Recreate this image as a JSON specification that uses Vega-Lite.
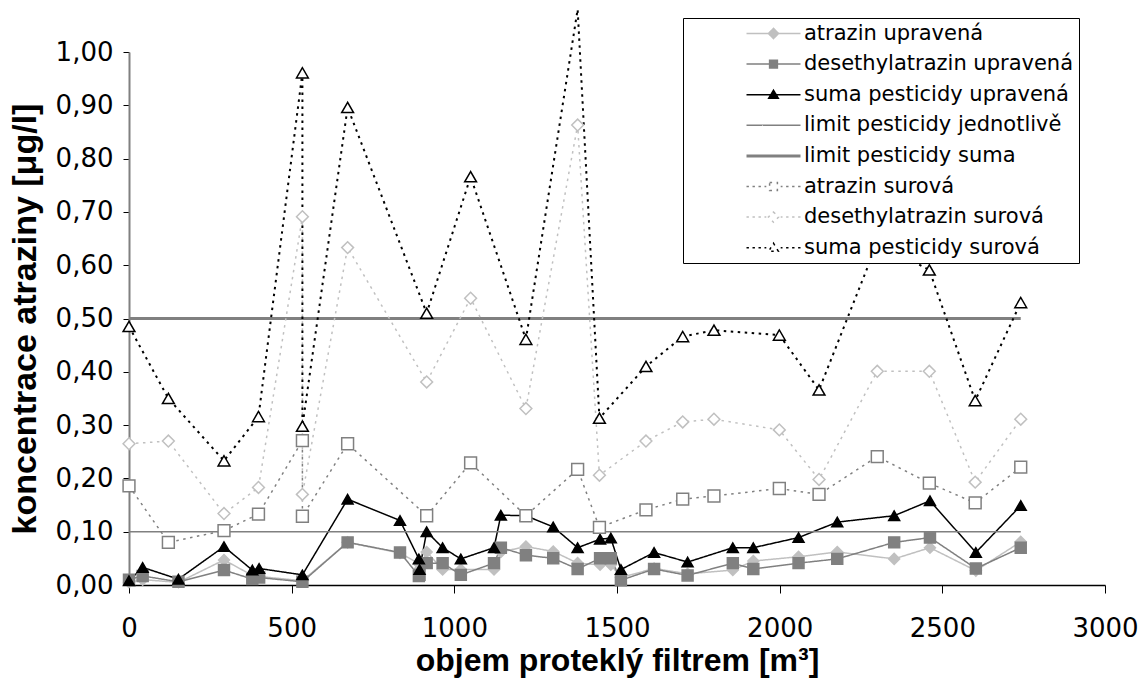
{
  "$schema": "https://vega.github.io/schema/vega-lite/v6.json",
  "width": 976,
  "height": 533,
  "autosize": {"type": "none"},
  "padding": {"left": 129, "top": 52, "right": 42, "bottom": 96},
  "background": "white",
  "config": {"view": {"stroke": null}, "axis": {"grid": false}},
  "data": {"values": [
    {"s":"atrazin upravená","i":0,"x":0,"y":0.005},{"s":"atrazin upravená","i":1,"x":42,"y":0.010},{"s":"atrazin upravená","i":2,"x":152,"y":0.005},{"s":"atrazin upravená","i":3,"x":292,"y":0.047},{"s":"atrazin upravená","i":4,"x":379,"y":0.018},{"s":"atrazin upravená","i":5,"x":400,"y":0.016},{"s":"atrazin upravená","i":6,"x":533,"y":0.008},{"s":"atrazin upravená","i":7,"x":672,"y":0.080},{"s":"atrazin upravená","i":8,"x":833,"y":0.060},{"s":"atrazin upravená","i":9,"x":891,"y":0.040},{"s":"atrazin upravená","i":10,"x":893,"y":0.030},{"s":"atrazin upravená","i":11,"x":915,"y":0.062},{"s":"atrazin upravená","i":12,"x":964,"y":0.029},{"s":"atrazin upravená","i":13,"x":1020,"y":0.029},{"s":"atrazin upravená","i":14,"x":1122,"y":0.029},{"s":"atrazin upravená","i":15,"x":1143,"y":0.062},{"s":"atrazin upravená","i":16,"x":1220,"y":0.072},{"s":"atrazin upravená","i":17,"x":1304,"y":0.063},{"s":"atrazin upravená","i":18,"x":1379,"y":0.041},{"s":"atrazin upravená","i":19,"x":1448,"y":0.038},{"s":"atrazin upravená","i":20,"x":1481,"y":0.038},{"s":"atrazin upravená","i":21,"x":1512,"y":0.014},{"s":"atrazin upravená","i":22,"x":1614,"y":0.031},{"s":"atrazin upravená","i":23,"x":1717,"y":0.021},{"s":"atrazin upravená","i":24,"x":1856,"y":0.028},{"s":"atrazin upravená","i":25,"x":1919,"y":0.045},{"s":"atrazin upravená","i":26,"x":2058,"y":0.053},{"s":"atrazin upravená","i":27,"x":2177,"y":0.062},{"s":"atrazin upravená","i":28,"x":2352,"y":0.049},{"s":"atrazin upravená","i":29,"x":2462,"y":0.070},{"s":"atrazin upravená","i":30,"x":2603,"y":0.027},{"s":"atrazin upravená","i":31,"x":2741,"y":0.081},
    {"s":"desethylatrazin upravená","i":0,"x":0,"y":0.010},{"s":"desethylatrazin upravená","i":1,"x":42,"y":0.017},{"s":"desethylatrazin upravená","i":2,"x":152,"y":0.006},{"s":"desethylatrazin upravená","i":3,"x":292,"y":0.028},{"s":"desethylatrazin upravená","i":4,"x":379,"y":0.011},{"s":"desethylatrazin upravená","i":5,"x":400,"y":0.014},{"s":"desethylatrazin upravená","i":6,"x":533,"y":0.006},{"s":"desethylatrazin upravená","i":7,"x":672,"y":0.080},{"s":"desethylatrazin upravená","i":8,"x":833,"y":0.061},{"s":"desethylatrazin upravená","i":9,"x":891,"y":0.017},{"s":"desethylatrazin upravená","i":10,"x":893,"y":0.019},{"s":"desethylatrazin upravená","i":11,"x":915,"y":0.041},{"s":"desethylatrazin upravená","i":12,"x":964,"y":0.041},{"s":"desethylatrazin upravená","i":13,"x":1020,"y":0.019},{"s":"desethylatrazin upravená","i":14,"x":1122,"y":0.041},{"s":"desethylatrazin upravená","i":15,"x":1143,"y":0.070},{"s":"desethylatrazin upravená","i":16,"x":1220,"y":0.056},{"s":"desethylatrazin upravená","i":17,"x":1304,"y":0.050},{"s":"desethylatrazin upravená","i":18,"x":1379,"y":0.030},{"s":"desethylatrazin upravená","i":19,"x":1448,"y":0.050},{"s":"desethylatrazin upravená","i":20,"x":1481,"y":0.050},{"s":"desethylatrazin upravená","i":21,"x":1512,"y":0.009},{"s":"desethylatrazin upravená","i":22,"x":1614,"y":0.030},{"s":"desethylatrazin upravená","i":23,"x":1717,"y":0.018},{"s":"desethylatrazin upravená","i":24,"x":1856,"y":0.041},{"s":"desethylatrazin upravená","i":25,"x":1919,"y":0.030},{"s":"desethylatrazin upravená","i":26,"x":2058,"y":0.041},{"s":"desethylatrazin upravená","i":27,"x":2177,"y":0.049},{"s":"desethylatrazin upravená","i":28,"x":2352,"y":0.080},{"s":"desethylatrazin upravená","i":29,"x":2462,"y":0.089},{"s":"desethylatrazin upravená","i":30,"x":2603,"y":0.031},{"s":"desethylatrazin upravená","i":31,"x":2741,"y":0.070},
    {"s":"suma pesticidy upravená","i":0,"x":0,"y":0.008},{"s":"suma pesticidy upravená","i":1,"x":42,"y":0.033},{"s":"suma pesticidy upravená","i":2,"x":152,"y":0.011},{"s":"suma pesticidy upravená","i":3,"x":292,"y":0.072},{"s":"suma pesticidy upravená","i":4,"x":379,"y":0.028},{"s":"suma pesticidy upravená","i":5,"x":400,"y":0.031},{"s":"suma pesticidy upravená","i":6,"x":533,"y":0.019},{"s":"suma pesticidy upravená","i":7,"x":672,"y":0.161},{"s":"suma pesticidy upravená","i":8,"x":833,"y":0.121},{"s":"suma pesticidy upravená","i":9,"x":891,"y":0.049},{"s":"suma pesticidy upravená","i":10,"x":893,"y":0.029},{"s":"suma pesticidy upravená","i":11,"x":915,"y":0.100},{"s":"suma pesticidy upravená","i":12,"x":964,"y":0.070},{"s":"suma pesticidy upravená","i":13,"x":1020,"y":0.049},{"s":"suma pesticidy upravená","i":14,"x":1122,"y":0.070},{"s":"suma pesticidy upravená","i":15,"x":1143,"y":0.131},{"s":"suma pesticidy upravená","i":16,"x":1220,"y":0.130},{"s":"suma pesticidy upravená","i":17,"x":1304,"y":0.109},{"s":"suma pesticidy upravená","i":18,"x":1379,"y":0.070},{"s":"suma pesticidy upravená","i":19,"x":1448,"y":0.086},{"s":"suma pesticidy upravená","i":20,"x":1481,"y":0.088},{"s":"suma pesticidy upravená","i":21,"x":1512,"y":0.029},{"s":"suma pesticidy upravená","i":22,"x":1614,"y":0.061},{"s":"suma pesticidy upravená","i":23,"x":1717,"y":0.043},{"s":"suma pesticidy upravená","i":24,"x":1856,"y":0.070},{"s":"suma pesticidy upravená","i":25,"x":1919,"y":0.070},{"s":"suma pesticidy upravená","i":26,"x":2058,"y":0.089},{"s":"suma pesticidy upravená","i":27,"x":2177,"y":0.118},{"s":"suma pesticidy upravená","i":28,"x":2352,"y":0.130},{"s":"suma pesticidy upravená","i":29,"x":2462,"y":0.158},{"s":"suma pesticidy upravená","i":30,"x":2603,"y":0.061},{"s":"suma pesticidy upravená","i":31,"x":2741,"y":0.149},
    {"s":"limit pesticidy jednotlivě","i":0,"x":0,"y":0.1},{"s":"limit pesticidy jednotlivě","i":1,"x":2741,"y":0.1},
    {"s":"limit pesticidy suma","i":0,"x":0,"y":0.5},{"s":"limit pesticidy suma","i":1,"x":2741,"y":0.5},
    {"s":"atrazin surová","i":0,"x":0,"y":0.186},{"s":"atrazin surová","i":1,"x":121,"y":0.080},{"s":"atrazin surová","i":2,"x":292,"y":0.102},{"s":"atrazin surová","i":3,"x":398,"y":0.133},{"s":"atrazin surová","i":4,"x":533,"y":0.271},{"s":"atrazin surová","i":5,"x":533,"y":0.129},{"s":"atrazin surová","i":6,"x":672,"y":0.265},{"s":"atrazin surová","i":7,"x":915,"y":0.130},{"s":"atrazin surová","i":8,"x":1050,"y":0.229},{"s":"atrazin surová","i":9,"x":1220,"y":0.130},{"s":"atrazin surová","i":10,"x":1379,"y":0.217},{"s":"atrazin surová","i":11,"x":1446,"y":0.108},{"s":"atrazin surová","i":12,"x":1589,"y":0.141},{"s":"atrazin surová","i":13,"x":1702,"y":0.161},{"s":"atrazin surová","i":14,"x":1798,"y":0.167},{"s":"atrazin surová","i":15,"x":1999,"y":0.181},{"s":"atrazin surová","i":16,"x":2121,"y":0.170},{"s":"atrazin surová","i":17,"x":2300,"y":0.241},{"s":"atrazin surová","i":18,"x":2460,"y":0.191},{"s":"atrazin surová","i":19,"x":2601,"y":0.154},{"s":"atrazin surová","i":20,"x":2741,"y":0.221},
    {"s":"desethylatrazin surová","i":0,"x":0,"y":0.265},{"s":"desethylatrazin surová","i":1,"x":121,"y":0.270},{"s":"desethylatrazin surová","i":2,"x":292,"y":0.134},{"s":"desethylatrazin surová","i":3,"x":398,"y":0.183},{"s":"desethylatrazin surová","i":4,"x":533,"y":0.691},{"s":"desethylatrazin surová","i":5,"x":533,"y":0.170},{"s":"desethylatrazin surová","i":6,"x":672,"y":0.633},{"s":"desethylatrazin surová","i":7,"x":915,"y":0.381},{"s":"desethylatrazin surová","i":8,"x":1050,"y":0.538},{"s":"desethylatrazin surová","i":9,"x":1220,"y":0.331},{"s":"desethylatrazin surová","i":10,"x":1379,"y":0.863},{"s":"desethylatrazin surová","i":11,"x":1446,"y":0.206},{"s":"desethylatrazin surová","i":12,"x":1589,"y":0.270},{"s":"desethylatrazin surová","i":13,"x":1702,"y":0.306},{"s":"desethylatrazin surová","i":14,"x":1798,"y":0.311},{"s":"desethylatrazin surová","i":15,"x":1999,"y":0.291},{"s":"desethylatrazin surová","i":16,"x":2121,"y":0.198},{"s":"desethylatrazin surová","i":17,"x":2300,"y":0.401},{"s":"desethylatrazin surová","i":18,"x":2460,"y":0.401},{"s":"desethylatrazin surová","i":19,"x":2601,"y":0.193},{"s":"desethylatrazin surová","i":20,"x":2741,"y":0.311},
    {"s":"suma pesticidy surová","i":0,"x":0,"y":0.485},{"s":"suma pesticidy surová","i":1,"x":121,"y":0.350},{"s":"suma pesticidy surová","i":2,"x":292,"y":0.233},{"s":"suma pesticidy surová","i":3,"x":398,"y":0.316},{"s":"suma pesticidy surová","i":4,"x":533,"y":0.961},{"s":"suma pesticidy surová","i":5,"x":533,"y":0.298},{"s":"suma pesticidy surová","i":6,"x":672,"y":0.896},{"s":"suma pesticidy surová","i":7,"x":915,"y":0.510},{"s":"suma pesticidy surová","i":8,"x":1050,"y":0.766},{"s":"suma pesticidy surová","i":9,"x":1220,"y":0.461},{"s":"suma pesticidy surová","i":10,"x":1379,"y":1.080},{"s":"suma pesticidy surová","i":11,"x":1446,"y":0.313},{"s":"suma pesticidy surová","i":12,"x":1589,"y":0.410},{"s":"suma pesticidy surová","i":13,"x":1702,"y":0.466},{"s":"suma pesticidy surová","i":14,"x":1798,"y":0.478},{"s":"suma pesticidy surová","i":15,"x":1999,"y":0.469},{"s":"suma pesticidy surová","i":16,"x":2121,"y":0.366},{"s":"suma pesticidy surová","i":17,"x":2300,"y":0.642},{"s":"suma pesticidy surová","i":18,"x":2460,"y":0.591},{"s":"suma pesticidy surová","i":19,"x":2601,"y":0.346},{"s":"suma pesticidy surová","i":20,"x":2741,"y":0.530}
  ]},
  "encoding": {
    "x": {"field": "x", "type": "quantitative",
      "scale": {"domain": [0, 3000], "nice": false},
      "axis": {"values": [0, 500, 1000, 1500, 2000, 2500, 3000], "format": "d", "labelFlush": false, "labelOverlap": false,
        "title": "objem proteklý filtrem [m³]",
        "labelFont": "DejaVu Sans", "labelFontSize": 26, "labelColor": "black", "labelPadding": 22,
        "tickSize": 8, "tickColor": "black", "tickWidth": 1, "domainColor": "black", "domainWidth": 1.5,
        "titleFont": "Liberation Sans", "titleFontSize": 32, "titleFontWeight": "bold", "titleColor": "black",
        "titleX": 488, "titleY": 85, "titleAlign": "center", "titleBaseline": "alphabetic"}},
    "y": {"field": "y", "type": "quantitative",
      "scale": {"domain": [0, 1], "nice": false},
      "axis": {"values": [0, 0.1, 0.2, 0.3, 0.4, 0.5, 0.6, 0.7, 0.8, 0.9, 1.0], "title": "koncentrace atraziny [μg/l]",
        "labelExpr": "replace(format(datum.value, '.2f'), '.', ',')", "labelFlush": false, "labelOverlap": false,
        "labelFont": "DejaVu Sans", "labelFontSize": 26, "labelColor": "black", "labelPadding": 10,
        "tickSize": 6, "tickColor": "black", "tickWidth": 1, "domainColor": "#808080", "domainWidth": 2,
        "titleFont": "Liberation Sans", "titleFontSize": 34, "titleFontWeight": "bold", "titleColor": "black",
        "titleX": -94, "titleY": 266.5, "titleAngle": 270, "titleAlign": "center", "titleBaseline": "alphabetic"}}
  },
  "layer": [
    {
      "mark": {"type": "line", "clip": false, "strokeCap": "butt"},
      "encoding": {
        "color": {"field": "s", "type": "nominal",
          "scale": {"domain": ["atrazin upravená", "desethylatrazin upravená", "suma pesticidy upravená", "limit pesticidy jednotlivě", "limit pesticidy suma", "atrazin surová", "desethylatrazin surová", "suma pesticidy surová"],
            "range": ["#c0c0c0", "#808080", "#000000", "#808080", "#808080", "#808080", "#c0c0c0", "#000000"]},
          "legend": {"title": null, "orient": "none", "legendX": 554, "legendY": -34, "direction": "vertical",
            "strokeColor": "black", "fillColor": "white", "padding": 5, "rowPadding": 8.6,
            "labelFont": "DejaVu Sans", "labelFontSize": 21, "labelColor": "black", "labelLimit": 400,
            "symbolSize": 144, "labelOffset": 95, "symbolStrokeWidth": 1.5,
            "encode": {"symbols": {"update": {
              "shape": {"signal": "datum.value==='atrazin upravená'?'M8,0H17M12.5,-0.85L13.35,0L12.5,0.85L11.65,0Z':datum.value==='desethylatrazin upravená'?'M8,0H17M11.85,-0.65H13.15V0.65H11.85Z':datum.value==='suma pesticidy upravená'?'M8,0H17M12.5,-0.75L13.3,0.6H11.7Z':datum.value==='atrazin surová'?'M8,0H8.4M9,0H9.4M10,0H10.4M11,0H11.3M13.7,0H14M14.6,0H15M15.6,0H16M16.6,0H17M11.85,-0.65H13.15V0.65H11.85Z':datum.value==='desethylatrazin surová'?'M8,0H8.4M9,0H9.4M10,0H10.4M11,0H11.3M13.7,0H14M14.6,0H15M15.6,0H16M16.6,0H17M12.5,-0.85L13.35,0L12.5,0.85L11.65,0Z':datum.value==='suma pesticidy surová'?'M8,0H8.4M9,0H9.4M10,0H10.4M11,0H11.3M13.7,0H14M14.6,0H15M15.6,0H16M16.6,0H17M12.5,-0.75L13.3,0.6H11.7Z':'M8,0H17'"},
              "fill": {"signal": "indexof(datum.value,'surov')>=0?'white':(indexof(datum.value,'limit')>=0?'transparent':scale('color',datum.value))"},
              "stroke": {"signal": "scale('color',datum.value)"},
              "strokeWidth": {"signal": "datum.value==='limit pesticidy suma'?3:1.5"},
              "strokeDash": {"value": [1, 0]},
              "opacity": {"value": 1}
            }}}}},
        "strokeDash": {"field": "s", "type": "nominal",
          "scale": {"domain": ["atrazin upravená", "desethylatrazin upravená", "suma pesticidy upravená", "limit pesticidy jednotlivě", "limit pesticidy suma", "atrazin surová", "desethylatrazin surová", "suma pesticidy surová"],
            "range": [[1, 0], [1, 0], [1, 0], [1, 0], [1, 0], [2.5, 4.5], [2.5, 4.5], [2.5, 4.5]]},
          "legend": null},
        "strokeWidth": {"condition": [{"test": "datum.s==='limit pesticidy suma'", "value": 3}, {"test": "datum.s==='suma pesticidy surová'", "value": 2}], "value": 1.5},
        "order": {"field": "i", "type": "quantitative"}
      }
    },
    {
      "transform": [{"filter": "indexof(datum.s,'limit')<0 && datum.y<=1"}],
      "mark": {"type": "point", "filled": false, "strokeWidth": 1.5, "opacity": 1, "clip": false},
      "encoding": {
        "color": {"field": "s", "type": "nominal", "legend": null},
        "shape": {"condition": [
          {"test": "datum.s==='atrazin upravená' || datum.s==='desethylatrazin surová'", "value": "diamond"},
          {"test": "datum.s==='desethylatrazin upravená' || datum.s==='atrazin surová'", "value": "square"}], "value": "triangle-up"},
        "fill": {"condition": [
          {"test": "datum.s==='atrazin upravená'", "value": "#c0c0c0"},
          {"test": "datum.s==='desethylatrazin upravená'", "value": "#808080"},
          {"test": "datum.s==='suma pesticidy upravená'", "value": "#000000"}], "value": "white"},
        "size": {"condition": [{"test": "indexof(datum.s,'surov')>=0", "value": 140}], "value": 120}
      }
    }
  ]
}
